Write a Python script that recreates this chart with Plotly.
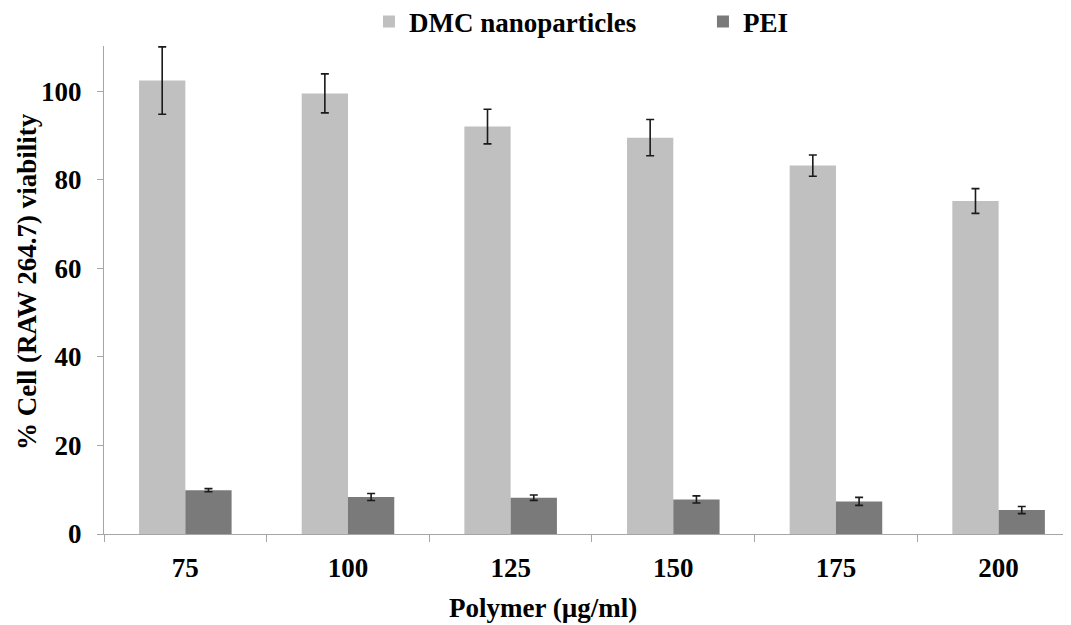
import plotly.graph_objects as go

categories = ["75", "100", "125", "150", "175", "200"]
dmc_values = [102.4, 99.5, 92.0, 89.5, 83.2, 75.2]
dmc_errors = [7.6, 4.4, 3.9, 4.1, 2.4, 2.8]
pei_values = [9.9, 8.35, 8.2, 7.8, 7.36, 5.4]
pei_errors = [0.35, 0.8, 0.6, 0.8, 0.9, 0.8]

y_ticks = [0, 20, 40, 60, 80, 100]

err_style = dict(type="data", thickness=1.6, width=4, color="#1a1a1a")

# page body has an 8px default margin; compensate so the plot lands where the reference has it
OFF = 8
W, H = 1071 - OFF, 625 - OFF
PL, PT, PB = 104 - OFF, 46 - OFF, 91
PH = H - PT - PB

fig = go.Figure()
fig.add_trace(go.Bar(
    x=categories, y=dmc_values, name="DMC nanoparticles",
    marker=dict(color="#c0c0c0", line=dict(width=0)),
    error_y=dict(array=dmc_errors, **err_style),
))
fig.add_trace(go.Bar(
    x=categories, y=pei_values, name="PEI",
    marker=dict(color="#7a7a7a", line=dict(width=0)),
    error_y=dict(array=pei_errors, **err_style),
))

fig.update_layout(
    width=W, height=H,
    margin=dict(l=PL, r=0, t=PT, b=PB, autoexpand=False),
    paper_bgcolor="white", plot_bgcolor="white",
    font=dict(family="Liberation Serif", size=27, color="black", weight="bold"),
    barmode="group", bargap=0.431, bargroupgap=0,
    showlegend=True,
    legend=dict(orientation="h", x=0.274, xanchor="left", y=1 + 24 / PH, yanchor="middle",
                entrywidth=289, entrywidthmode="pixels",
                font=dict(size=27), itemsizing="constant", bgcolor="rgba(0,0,0,0)"),
    xaxis=dict(
        type="category", range=[-0.5, 5.445], automargin=False,
        showline=True, linecolor="#a6a6a6", linewidth=1.3,
        ticks="outside", tickson="boundaries", ticklen=7, tickcolor="#a6a6a6", tickwidth=1.3,
        ticklabelstandoff=9,
        showgrid=False, zeroline=False,
    ),
    yaxis=dict(
        range=[0, 110.2], tickvals=y_ticks, automargin=False,
        showline=True, linecolor="#a6a6a6", linewidth=1.3,
        ticks="outside", ticklen=6, tickcolor="#a6a6a6", tickwidth=1.3,
        ticklabelstandoff=10,
        showgrid=False, zeroline=False,
    ),
    annotations=[
        dict(
            text="Polymer (µg/ml)", xref="paper", yref="paper",
            x=(543 - 104) / 967, y=-(608 - 534) / PH, xanchor="center", yanchor="middle",
            showarrow=False, font=dict(size=27),
        ),
        dict(
            text="% Cell (RAW 264.7) viability", xref="paper", yref="paper",
            x=-(104 - 27) / 967, y=(534 - 282) / PH, xanchor="center", yanchor="middle",
            textangle=-90, showarrow=False, font=dict(size=27),
        ),
    ],
)

fig.write_html("out.html")
